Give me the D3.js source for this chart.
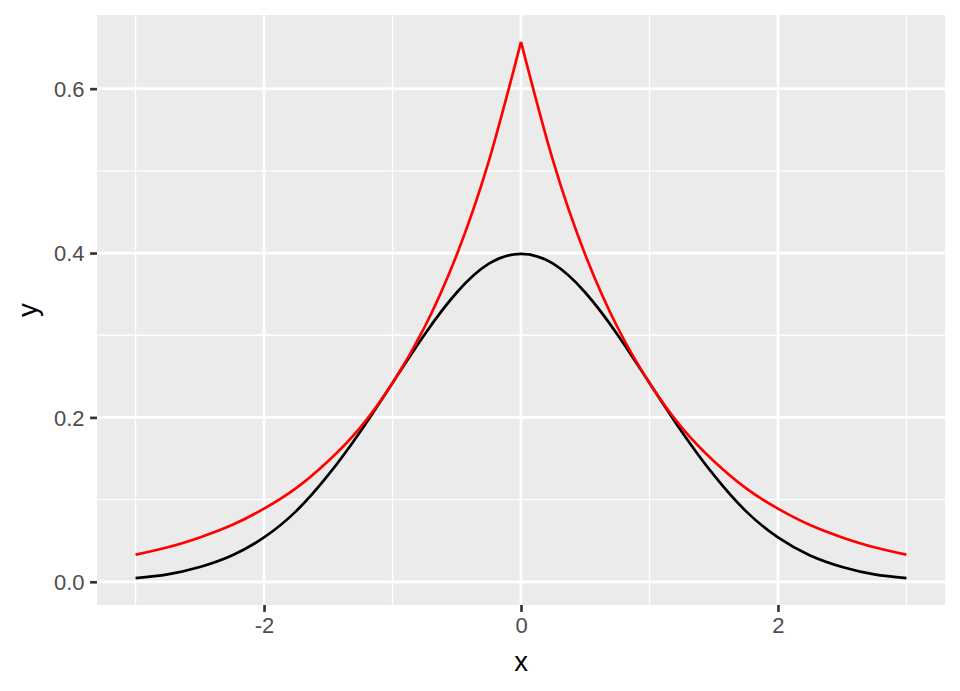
<!DOCTYPE html>
<html>
<head>
<meta charset="utf-8">
<script src="https://cdn.jsdelivr.net/npm/d3@7"></script>
<style>
  body { margin: 0; background: #fff; }
  svg { display: block; }
  text { font-family: "Liberation Sans", Arial, Helvetica, sans-serif; }
</style>
</head>
<body>
<svg id="chart" width="960" height="691"></svg>
<script>
// values, x from -3 to 3 in steps of 0.25
var xs = [-3, -2.75, -2.5, -2.25, -2, -1.75, -1.5, -1.25, -1, -0.75, -0.5, -0.25, 0,
          0.25, 0.5, 0.75, 1, 1.25, 1.5, 1.75, 2, 2.25, 2.5, 2.75, 3];
var blackY = [0.0044, 0.009, 0.018, 0.032, 0.054, 0.086, 0.130, 0.183, 0.242, 0.301, 0.352, 0.387, 0.399,
              0.387, 0.352, 0.301, 0.242, 0.183, 0.130, 0.086, 0.054, 0.032, 0.018, 0.009, 0.0044];
var redY = [0.033, 0.042, 0.054, 0.069, 0.089, 0.114, 0.147, 0.188, 0.242, 0.310, 0.398, 0.512, 0.657,
            0.512, 0.398, 0.310, 0.242, 0.188, 0.147, 0.114, 0.089, 0.069, 0.054, 0.042, 0.033];
var xTicks = [-2, 0, 2];
var xMinor = [-3, -1, 1, 3];
var yTicks = [0, 0.2, 0.4, 0.6];
var yMinor = [0.1, 0.3, 0.5];

var W = 960, H = 691;
var m = {top: 15, right: 15, bottom: 86, left: 97};
var svg = d3.select("#chart");

// ggplot style 5% expansion
var xr = d3.extent(xs), xpad = (xr[1] - xr[0]) * 0.05;
var allY = blackY.concat(redY);
var yr = d3.extent(allY), ypad = (yr[1] - yr[0]) * 0.05;

var x = d3.scaleLinear().domain([xr[0] - xpad, xr[1] + xpad]).range([m.left, W - m.right]);
var y = d3.scaleLinear().domain([yr[0] - ypad, yr[1] + ypad]).range([H - m.bottom, m.top]);

var g = svg.append("g");

// panel
g.append("rect")
  .attr("x", m.left).attr("y", m.top)
  .attr("width", W - m.left - m.right).attr("height", H - m.top - m.bottom)
  .attr("fill", "#EBEBEB");

// grid
function grid(vals, major, vertical) {
  g.selectAll(null).data(vals).enter().append("line")
    .attr("x1", function (d) { return vertical ? x(d) : m.left; })
    .attr("x2", function (d) { return vertical ? x(d) : W - m.right; })
    .attr("y1", function (d) { return vertical ? m.top : y(d); })
    .attr("y2", function (d) { return vertical ? H - m.bottom : y(d); })
    .attr("stroke", "#fff")
    .attr("stroke-width", major ? 2.67 : 1.33);
}
grid(xMinor, false, true);
grid(yMinor, false, false);
grid(xTicks, true, true);
grid(yTicks, true, false);

// curves
var pts = function (ys) { return xs.map(function (v, i) { return [v, ys[i]]; }); };
var line = d3.line().x(function (d) { return x(d[0]); }).y(function (d) { return y(d[1]); })
  .curve(d3.curveNatural);

g.append("path")
  .datum(pts(blackY))
  .attr("d", line)
  .attr("fill", "none").attr("stroke", "#000").attr("stroke-width", 2.67);

// red has a cusp at 0, so draw each side on its own
var red = pts(redY), mid = xs.indexOf(0);
[red.slice(0, mid + 1), red.slice(mid)].forEach(function (part) {
  g.append("path")
    .datum(part)
    .attr("d", line)
    .attr("fill", "none").attr("stroke", "#FF0000").attr("stroke-width", 2.67)
    .attr("stroke-linejoin", "round");
});

// axes
var xAxis = d3.axisBottom(x).tickValues(xTicks).tickSize(6.9).tickPadding(5.5).tickFormat(d3.format("d"));
var yAxis = d3.axisLeft(y).tickValues(yTicks).tickSize(6.9).tickPadding(5.5).tickFormat(d3.format(".1f"));

var gx = svg.append("g").attr("transform", "translate(0," + (H - m.bottom) + ")").call(xAxis);
var gy = svg.append("g").attr("transform", "translate(" + m.left + ",0)").call(yAxis);

[gx, gy].forEach(function (a) {
  a.select(".domain").remove();
  a.selectAll(".tick line").attr("stroke", "#333333").attr("stroke-width", 2.67);
  a.selectAll(".tick text").attr("fill", "#4D4D4D").style("font-size", "22px");
});
gx.selectAll(".tick text").text(function (d) { return d < 0 ? "-" + Math.abs(d) : d; }).attr("dy", "0.72em");
gy.selectAll(".tick text").attr("dy", "0.36em");

// axis titles
svg.append("text")
  .attr("x", (m.left + W - m.right) / 2).attr("y", 671)
  .attr("text-anchor", "middle").style("font-size", "27.5px").attr("fill", "#000")
  .text("x");
svg.append("text")
  .attr("transform", "translate(37," + (m.top + H - m.bottom) / 2 + ") rotate(-90)")
  .attr("text-anchor", "middle").style("font-size", "27.5px").attr("fill", "#000")
  .text("y");
</script>
</body>
</html>
